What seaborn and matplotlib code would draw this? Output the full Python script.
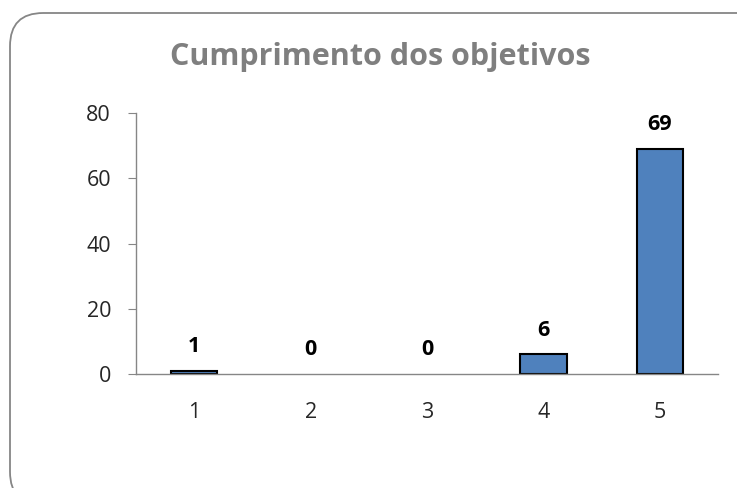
import matplotlib
matplotlib.use("Agg")
import matplotlib.pyplot as plt
import seaborn as sns
import pandas as pd
from matplotlib.patches import FancyBboxPatch

categories = ["1", "2", "3", "4", "5"]
values = [1, 0, 0, 6, 69]
title = "Cumprimento dos objetivos"
yticks = [0, 20, 40, 60, 80]

sns.set_style("white")
plt.rcParams['font.family'] = ['Open Sans', 'DejaVu Sans']

W, H = 737, 488
fig = plt.figure(figsize=(W / 100, H / 100), dpi=100)
ax = fig.add_axes([136 / W, 1 - 374 / H, (718 - 136) / W, (374 - 113) / H])

df = pd.DataFrame({"cat": categories, "val": values})
sns.barplot(data=df, x="cat", y="val", ax=ax, color="#4f81bd", width=0.4,
            edgecolor="black", linewidth=1.5, saturation=1)
for p in ax.patches:
    if p.get_height() == 0:
        p.set_linewidth(0)

ax.set_ylim(0, 80)
ax.set_yticks(yticks)
ax.set_xlim(-0.5, 4.5)
ax.set_xlabel("")
ax.set_ylabel("")
for s in ["top", "right"]:
    ax.spines[s].set_visible(False)
for s in ["left", "bottom"]:
    ax.spines[s].set_color("#868686")
    ax.spines[s].set_linewidth(1)
ax.tick_params(axis="y", length=6, color="#868686", labelsize=15.5, pad=12, left=True)
ax.tick_params(axis="x", length=0, labelsize=15.5, pad=20)

for i, v in enumerate(values):
    ax.annotate(str(v), (i, v), xytext=(0, 13.5), textcoords="offset points",
                ha="center", va="baseline", fontsize=15.5, fontweight="bold", color="black")

fig.text(380 / W, 1 - 57 / H, title, ha="center", va="center",
         fontsize=22, fontweight="bold", color="#7f7f7f")

box = FancyBboxPatch((10 / W, 1 - 505 / H), (770 - 10) / W, (505 - 13) / H,
                     boxstyle="round,pad=0,rounding_size=0.045",
                     transform=fig.transFigure, fill=False,
                     edgecolor="#868686", linewidth=1.3, mutation_aspect=W / H)
fig.patches.append(box)

fig.savefig("out.png", dpi=100)
